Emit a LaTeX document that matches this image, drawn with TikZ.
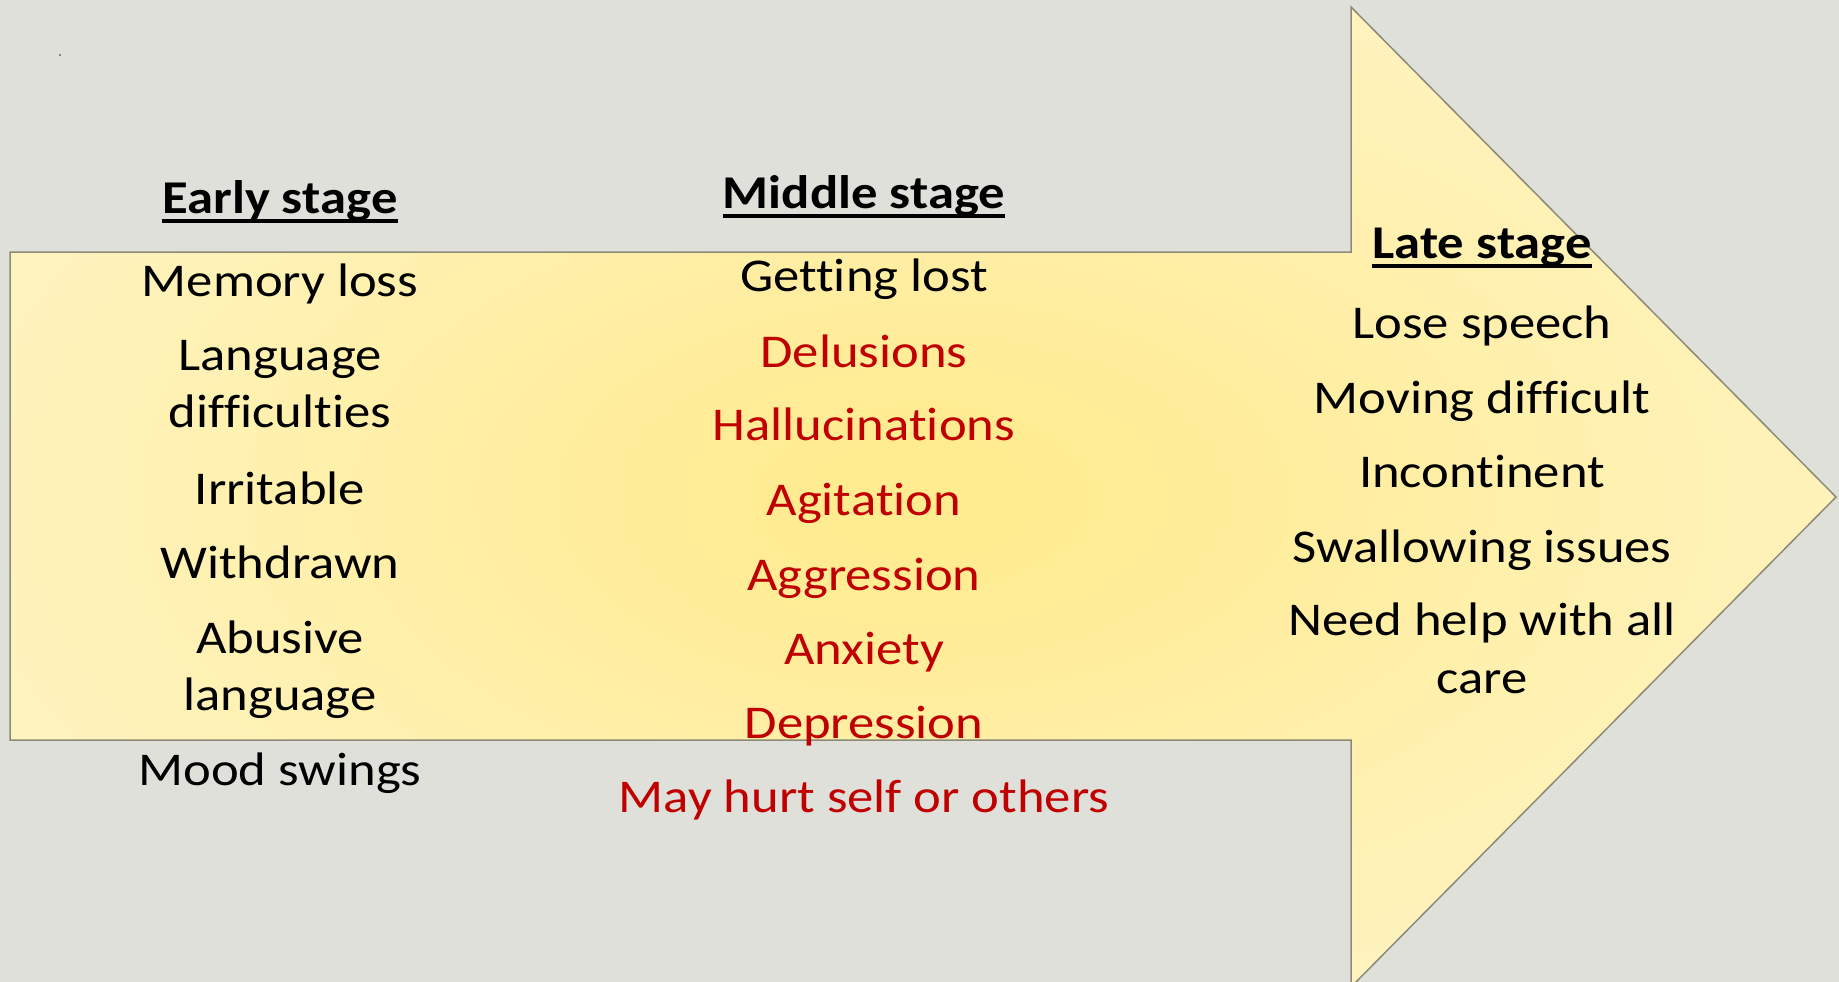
\documentclass[tikz,border=0pt]{standalone}
\usepackage{fontspec}
\setmainfont{Carlito}[Ligatures=NoCommon]
\usepackage{graphicx}
\definecolor{bg}{HTML}{E0E0DB}
\definecolor{ycen}{HTML}{FFEB90}
\definecolor{ymid}{HTML}{FFF1B2}
\definecolor{yedge}{HTML}{FFF9DA}
\definecolor{edgec}{HTML}{8E8A78}
\definecolor{dred}{HTML}{C00000}
\pgfdeclareradialshading{arrowshade}{\pgfpoint{0bp}{0bp}}{color(0bp)=(ycen); color(3bp)=(ycen); color(20bp)=(ymid); color(42bp)=(yedge); color(75bp)=(yedge)}
\newcommand{\sx}[1]{\scalebox{1.12}[1]{#1}}
\newcommand{\nb}{\kern0pt{}}
\begin{document}
\begin{tikzpicture}[x=1pt,y=-1pt,
  item/.style={font=\fontsize{47}{57.5}\selectfont, inner sep=0pt, outer sep=0pt, anchor=base, align=center},
  bad/.style={item, text=dred},
  ttl/.style={item, font=\fontsize{47}{57.5}\selectfont\bfseries},
  uline/.style={line width=3.5pt, black}]
\useasboundingbox (0,0) rectangle (1839,982);
\fill[bg] (0,0) rectangle (1839,982);
\fill[black!60] (60,55) circle (1.1);
\shadedraw[shading=arrowshade, draw=edgec, line width=1.5pt]
  (10,252) -- (1351,252) -- (1351,7) -- (1836,497) -- (1351,987) -- (1351,740) -- (10,740) -- cycle;
% titles
\node[ttl] (t1) at (280,213) {\sx{Early s\nb tage}};
\node[ttl] (t2) at (864,208) {\sx{Middle s\nb tage}};
\node[ttl] (t3) at (1482,258) {\sx{Late s\nb tage}};
\foreach \t in {t1,t2,t3}
  \draw[uline] ([yshift=-8pt]\t.base west) -- ([yshift=-8pt]\t.base east);
% early (multi-line nodes: base = last line)
\node[item] (e1) at (280,296) {\sx{Memory loss}};
\node[item] (e2) at (280,427.5) {\sx{Language}\\\sx{dif\nb f\nb icult\nb ies}};
\node[item] (e3) at (280,504) {\sx{Irritable}};
\node[item] (e4) at (280,578.6) {\sx{Withdrawn}};
\node[item] (e5) at (280,710.7) {\sx{Abusive}\\\sx{language}};
\node[item] (e6) at (280,785.7) {\sx{Mood swings}};
% middle
\node[item] (m1) at (864,291.7) {\sx{Gett\nb ing lost}};
\node[bad] (m2) at (864,367) {\sx{Delusions}};
\node[bad] (m3) at (864,440.7) {\sx{Hallucinat\nb ions}};
\node[bad] (m4) at (864,515.6) {\sx{Agit\nb at\nb ion}};
\node[bad] (m5) at (864,590) {\sx{Aggression}};
\node[bad] (m6) at (864,664) {\sx{Anxiety}};
\node[bad] (m7) at (864,738.7) {\sx{Depression}};
\node[bad] (m8) at (864,812) {\sx{May hurt self or others}};
% late
\node[item] (l1) at (1482,338) {\sx{Lose speech}};
\node[item] (l2) at (1482,413) {\sx{Moving dif\nb f\nb icult}};
\node[item] (l3) at (1482,487) {\sx{Incont\nb inent}};
\node[item] (l4) at (1482,562) {\sx{Swallowing issues}};
\node[item] (l5) at (1482,693) {\sx{Need help with all}\\\sx{care}};
\end{tikzpicture}
\end{document}
